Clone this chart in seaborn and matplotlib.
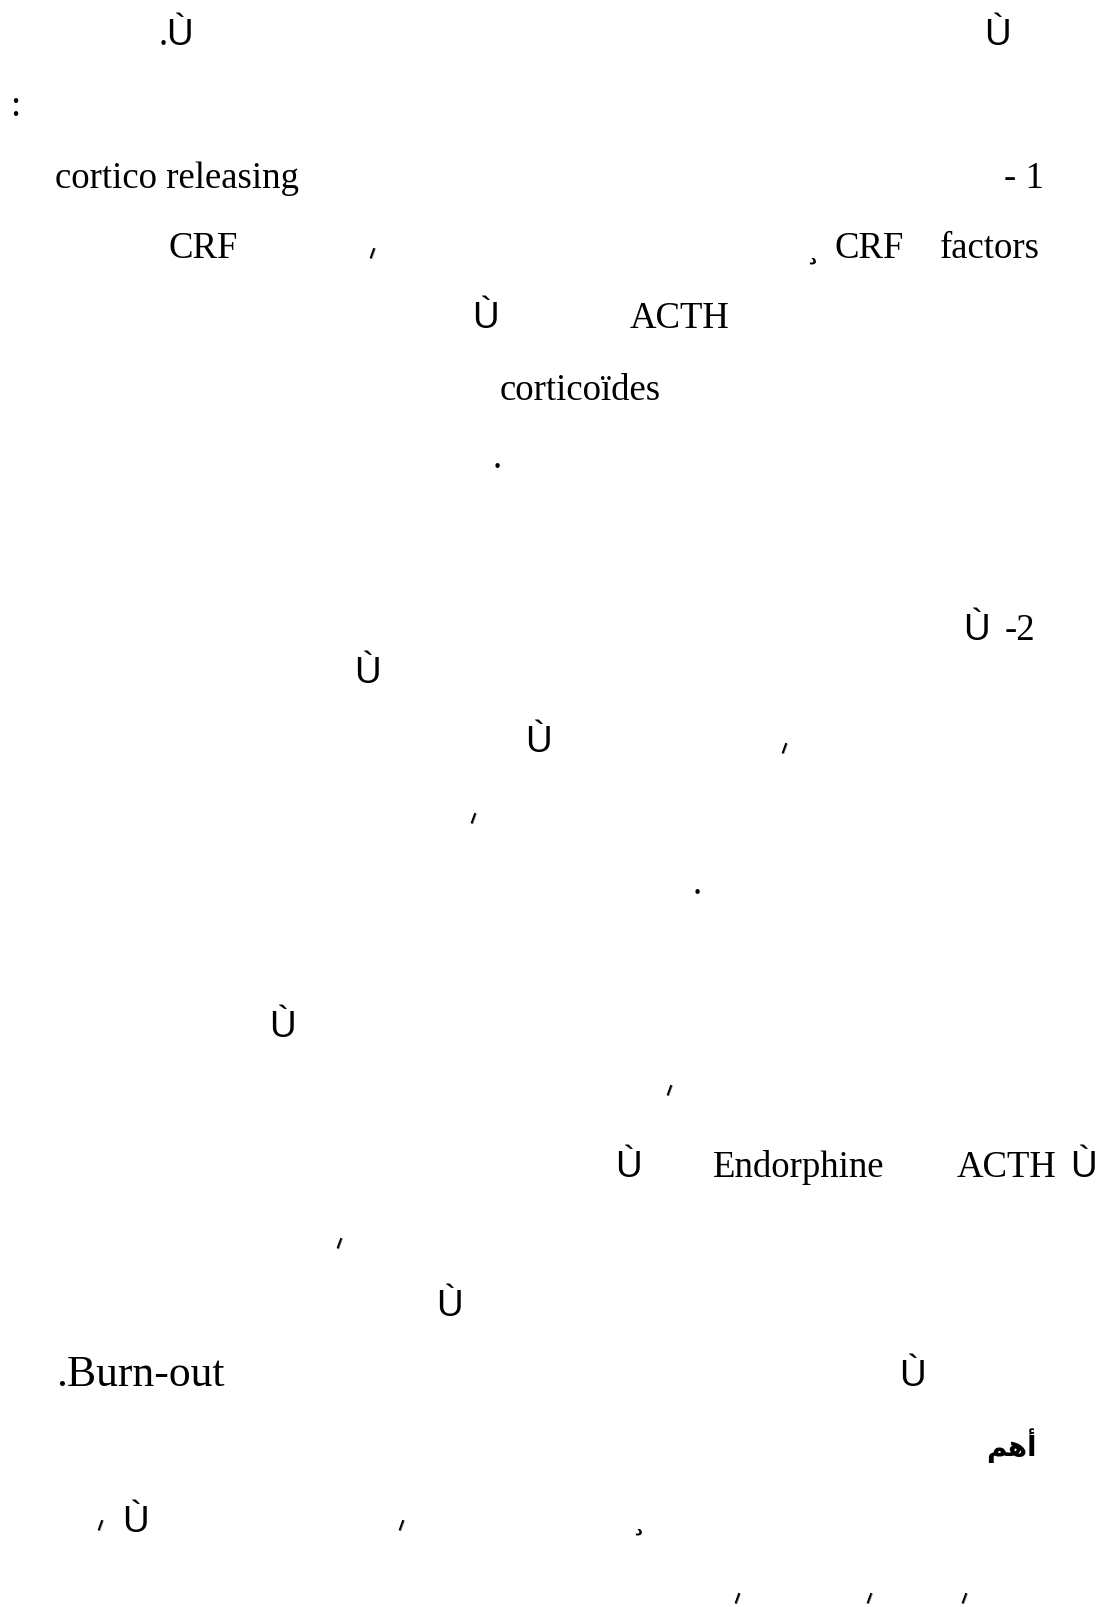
import matplotlib
matplotlib.use('Agg')
import matplotlib.pyplot as plt
import seaborn as sns

# Latin words left on the page (Times-like serif)
serif_words = ['.', ':', 'cortico releasing', '- 1', 'CRF', 'CRF', 'factors',
               'ACTH', 'corticoïdes', '.', '-2', '.', 'Endorphine', 'ACTH']
serif_x = [159, 10, 55, 1004, 169, 835, 940, 630, 500, 493, 1005, 693, 713, 957]
serif_y = [45, 116, 188, 188, 258, 258, 258, 328, 400, 468, 640, 894, 1177, 1177]

# the bigger word near the bottom
big_words = ['.Burn-out']
big_x = [56]
big_y = [1386]

# broken glyphs (sans)
u_x = [166, 984, 472, 963, 354, 525, 269, 615, 1070, 436, 899, 122]
u_y = [45, 45, 328, 640, 683, 752, 1037, 1177, 1177, 1316, 1386, 1532]

# tiny slanted marks
tick_x = [371, 783, 472, 668, 338, 99, 400, 736, 868, 963]
tick_y = [255, 750, 820, 1092, 1245, 1527, 1527, 1600, 1600, 1600]

# small dal-like marks
dal_x = [812, 638]
dal_y = [259, 1530]

# the one Arabic word (presentation forms, visual order)
arabic_word = '\ufee2\ufeeb\ufe83'
arabic_xy = (1037, 1456)

sns.set_theme(style='white')
plt.rcParams['font.family'] = ['Liberation Serif', 'DejaVu Serif']

fig = plt.figure(figsize=(11.05, 16.08), dpi=100)
ax = fig.add_axes([0, 0, 1, 1])
ax.set_xlim(0, 1105)
ax.set_ylim(1608, 0)
ax.axis('off')

for w, x, y in zip(serif_words, serif_x, serif_y):
    ax.text(x, y, w, fontsize=26.5, ha='left', va='baseline', color='black',
            family=['Liberation Serif', 'DejaVu Serif'])

for w, x, y in zip(big_words, big_x, big_y):
    ax.text(x, y, w, fontsize=31.5, ha='left', va='baseline', color='black',
            family=['Liberation Serif', 'DejaVu Serif'])

for x, y in zip(u_x, u_y):
    ax.text(x, y, 'Ù', fontsize=26.5, ha='left', va='baseline', color='black',
            family=['Liberation Sans Narrow', 'Liberation Sans', 'DejaVu Sans'])

for x, y in zip(tick_x, tick_y):
    ax.text(x, y, 'ا', fontsize=10, ha='center', va='center', color='black',
            rotation=-20, fontweight='bold', family=['DejaVu Sans'])

for x, y in zip(dal_x, dal_y):
    ax.text(x, y, 'د', fontsize=11, ha='center', va='center', color='black',
            fontweight='bold', family=['DejaVu Sans'])

ax.text(arabic_xy[0], arabic_xy[1], arabic_word, fontsize=20, ha='right',
        va='baseline', color='black', fontweight='bold', family=['DejaVu Sans'])

fig.savefig('out.png', dpi=100, facecolor='white')
plt.close(fig)
